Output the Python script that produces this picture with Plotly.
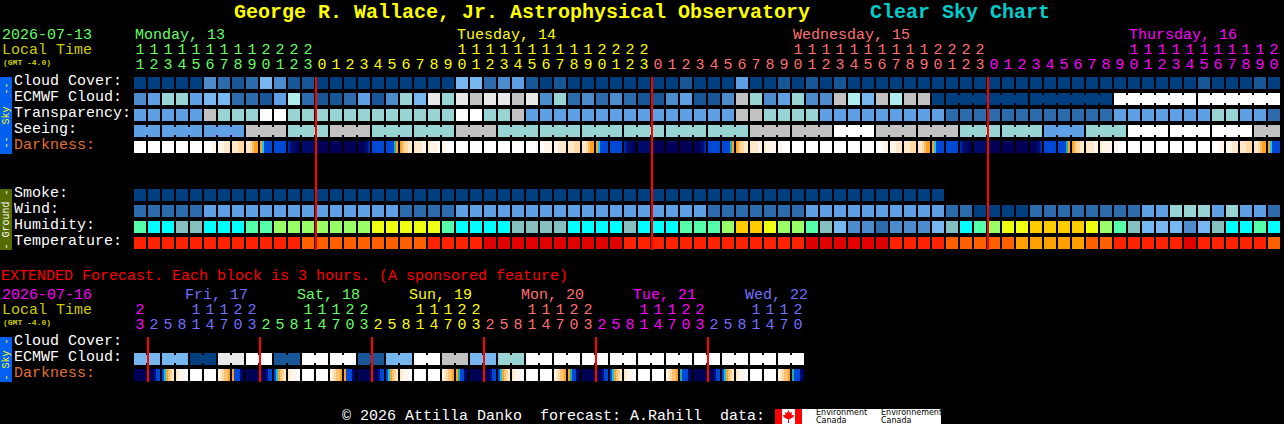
import plotly.graph_objects as go

W, H = 1284, 424
MONO = "Liberation Mono"

# block colours, lightest end is overcast / poor
cloud_colors = ["#003f7f", "#175797", "#2c6cac", "#4c8ccc", "#5f9fe3", "#77b7f0",
                "#99d4d4", "#aeeeee", "#c2c2c2", "#e9e9e9", "#ffffff"]
humidity_colors = ["#2c6cac", "#4c8ccc", "#77b7f0", "#85c0c0", "#00ffff", "#55ffaa",
                   "#99ff66", "#eeff11", "#ffcc00"]
temperature_colors = ["#e00000", "#ff2200", "#ff6000", "#ffa000"]
darkness_colors = ["#ffffff", "#fff5e8", "#ffe8cc", "#ffd9a0", "#ffc070", "#ffa020",
                   "#10c8f0", "#0048d8", "#0028a8", "#001080", "#000a68", "#000058", "#20b0a0"]

day_colors = {"mon": "#66ff66", "tue": "#ffff00", "wed": "#ff7070", "thu": "#ff00ff",
              "fri": "#7070ff", "sat": "#66ff66", "sun": "#ffff00"}

# hourly chart
hours = [11, 12, 13, 14, 15, 16, 17, 18, 19, 20, 21, 22, 23,
         0, 1, 2, 3, 4, 5, 6, 7, 8, 9, 10, 11, 12, 13, 14, 15, 16, 17, 18, 19, 20, 21, 22, 23,
         0, 1, 2, 3, 4, 5, 6, 7, 8, 9, 10, 11, 12, 13, 14, 15, 16, 17, 18, 19, 20, 21, 22, 23,
         0, 1, 2, 3, 4, 5, 6, 7, 8, 9, 10, 11, 12, 13, 14, 15, 16, 17, 18, 19, 20]
hour_days = [("mon", 13), ("tue", 24), ("wed", 24), ("thu", 21)]
day_labels = [("Monday, 13", 135, "mon"), ("Tuesday, 14", 457, "tue"),
              ("Wednesday, 15", 793, "wed"), ("Thursday, 16", 1129, "thu")]

cloud_cover = [0, 0, 0, 0, 0, 3, 2, 1, 2, 5, 3, 1, 1, 0, 0, 0, 0, 0, 0, 0, 0, 0, 0, 5, 5, 2, 3, 4, 1, 0, 1,
               0, 0, 0, 0, 0, 0, 0, 0, 1, 0, 0, 0, 4, 0, 0, 1, 0, 1, 0, 1,
               0, 0, 0, 0, 0, 0, 0, 0, 0, 0, 0, 0, 0, 0, 0, 0, 0, 0, 0, 0, 0, 0, 0, 0, 0, 1, 0, 0, 0, 1, 0]
ecmwf_cloud = [3, 4, 6, 6, 4, 5, 5, 2, 2, 1, 4, 7, 2, 1, 1, 2, 4, 1, 3, 6, 5, 9, 6, 9, 8, 9, 9, 8, 9, 3, 6,
               2, 3, 2, 3, 2, 1, 1, 3, 4, 1, 1, 3, 8, 6, 3, 4, 6, 3, 3, 8, 7, 5, 8, 7, 8, 8, 0,
               0, 0, 0, 0, 0, 0, 0, 0, 0, 0, 0, 0, 10, 10, 10, 10, 10, 10, 10, 10, 10, 10, 10, 10]
ecmwf_spans = [(58, 63), (64, 69), (70, 75), (76, 81)]
transparency = [4, 4, 4, 4, 4, 8, 6, 6, 6, 10, 10, 6, 6, 6, 6, 6, 6, 6, 6, 6, 6, 6, 6, 10, 10, 6, 6, 8,
                4, 4, 4, 4, 4, 4, 4, 4, 4, 4, 4, 4, 4, 4, 4, 8, 8, 6, 6, 6, 6, 4, 4, 4,
                4, 4, 4, 4, 4, 4, 2, 2, 2, 2, 2, 2, 2, 2, 2, 2, 2, 2, 4, 4, 4, 4, 4, 4, 4, 6, 6, 4, 4, 2]
seeing_lengths = [2, 3, 3, 3, 3, 3, 3, 3, 3, 3, 3, 3, 3, 3, 3, 3, 3, 3, 3, 3, 3, 3, 3, 3, 3, 3, 3, 2]
seeing_levels = [4, 4, 4, 8, 6, 8, 6, 6, 8, 6, 6, 6, 6, 6, 6, 8, 8, 10, 8, 8, 6, 6, 4, 6, 10, 10, 10, 8]
# one char = solid block, six chars = the block's gradient left to right
darkness = ["0", "0", "0", "0", "0", "000011", "111222", "222333", "223455", "567777", "7", "89aabb", "a",
            "b", "b", "b", "bbba98", "7", "7777c5", "543322", "222211", "211110", "110000",
            "0", "0", "0", "0", "0", "000001", "001111", "112222", "222333", "223455", "567777", "7", "89aabb", "a",
            "b", "b", "b", "bbba98", "7", "7777c5", "543322", "222211", "211111", "110000",
            "0", "0", "0", "0", "0", "0", "000111", "111222", "222333", "223455", "567777", "7", "89aabb", "a",
            "b", "b", "b", "bbba98", "7", "7777c5", "543322", "222211", "211111", "110000",
            "0", "0", "0", "0", "0", "0", "000111", "111222", "222333", "223455", "567777"]

smoke = [0] * 58
wind = [2, 2, 2, 2, 2, 4, 4, 4, 4, 4, 4, 4, 4, 4, 4, 4, 4, 4, 4, 2, 2, 2, 2,
        4, 4, 4, 4, 4, 4, 4, 4, 4, 4, 4, 4, 4, 4, 4, 4, 4, 4, 2, 2, 2, 2, 2, 2, 2,
        4, 4, 4, 4, 4, 4, 4, 4, 4, 4, 2, 2, 0, 0, 0, 0, 2, 2, 2, 2, 2, 2, 2, 2,
        4, 4, 6, 6, 6, 4, 6, 4, 4, 2]
humidity = [5, 4, 4, 3, 3, 4, 4, 4, 5, 5, 6, 6, 6, 6, 6, 6, 6, 7, 7, 7, 7, 7, 5, 4, 4, 4, 4, 3, 3, 3, 3,
            4, 4, 4, 4, 3, 4, 4, 4, 5, 5, 5, 6, 8, 8, 7, 6, 6, 5, 3, 2, 1, 1, 0, 1, 1, 1, 2, 3, 4, 5,
            6, 7, 7, 8, 8, 8, 8, 7, 6, 5, 3, 2, 2, 2, 1, 2, 3, 4, 4, 5, 4]
temperature = [1, 1, 1, 1, 1, 1, 1, 1, 1, 1, 1, 1, 2, 2, 2, 2, 2, 2, 2, 2, 2, 1, 1, 1, 1, 0,
               0, 0, 0, 0, 0, 0, 0, 0, 0, 1, 1, 1, 1, 1, 1, 1, 1, 1, 1, 1, 1, 1, 0, 0, 0, 0, 0, 0,
               1, 1, 1, 1, 2, 2, 2, 2, 2, 3, 3, 3, 3, 3, 2, 2, 1, 1, 1, 1, 1, 0, 1, 1, 1, 1, 1, 2]

# extended chart, 3 hour blocks
ext_hours = [23, 2, 5, 8, 11, 14, 17, 20, 23, 2, 5, 8, 11, 14, 17, 20, 23, 2, 5, 8, 11, 14, 17, 20, 23,
             2, 5, 8, 11, 14, 17, 20, 23, 2, 5, 8, 11, 14, 17, 20, 23, 2, 5, 8, 11, 14, 17, 20]
ext_hour_days = [("thu", 1), ("fri", 8), ("sat", 8), ("sun", 8), ("wed", 8), ("thu", 8), ("fri", 7)]
ext_day_labels = [("Fri, 17", 185, "fri"), ("Sat, 18", 297, "sat"), ("Sun, 19", 409, "sun"),
                  ("Mon, 20", 521, "wed"), ("Tue, 21", 633, "thu"), ("Wed, 22", 745, "fri")]
ext_ecmwf = [5, 5, 0, 9, 10, 1, 10, 10, 1, 5, 10, 8, 5, 6, 10, 10, 10, 10, 10, 10, 10, 10, 10, 10]
ext_darkness = ["b", "bbb977", "765432", "211100", "0", "0", "123445", "5777ab",
                "b", "bbb977", "765432", "211100", "0", "0", "123445", "5777ab",
                "b", "bbb977", "765432", "211100", "0", "0", "123445", "5c77ab",
                "b", "bbb977", "765432", "211100", "0", "0", "123445", "5c77ab",
                "b", "bbb977", "765432", "211100", "0", "0", "123445", "c777ab",
                "b", "bbb977", "765432", "211100", "0", "0", "123445", "c777ab"]

sky_rows = [("Cloud Cover:", "#ffffff"), ("ECMWF Cloud:", "#ffffff"), ("Transparency:", "#ffffff"),
            ("Seeing:", "#ffffff"), ("Darkness:", "#e07030")]
ground_rows = ["Smoke:", "Wind:", "Humidity:", "Temperature:"]
ext_rows = [("Cloud Cover:", "#ffffff"), ("ECMWF Cloud:", "#ffffff"), ("Darkness:", "#e07030")]


def blocks(values, row, colors, xa, ya):
    n = len(colors)
    scale = []
    for i, c in enumerate(colors):
        scale += [[i / n, c], [(i + 1) / n, c]]
    return go.Heatmap(z=[values], x=list(range(len(values))), y=[row], xaxis=xa, yaxis=ya,
                      zmin=-0.5, zmax=n - 0.5, colorscale=scale, showscale=False,
                      xgap=2, ygap=4, hoverinfo="skip")


def gradient_blocks(values, row, xa, ya):
    # each block is 6 strips plus one empty strip for the gap
    n = len(darkness_colors)
    scale = []
    for i, c in enumerate(darkness_colors):
        scale += [[i / n, c], [(i + 1) / n, c]]
    xs, zs = [], []
    for col, v in enumerate(values):
        strip = v * 6 if len(v) == 1 else v
        for k in range(7):
            xs.append(col - 0.5 + 1 / 14 + (k + 0.5) / 7)
            zs.append(int(strip[k], 16) if k < 6 else None)
    return go.Heatmap(z=[zs], x=xs, y=[row], xaxis=xa, yaxis=ya, zmin=-0.5, zmax=n - 0.5,
                      colorscale=scale, showscale=False, ygap=4, hoverinfo="skip", hoverongaps=False)


def joiner(first, last, row, color, xa, ya):
    return go.Scatter(x=[first, last], y=[row, row], xaxis=xa, yaxis=ya, mode="lines",
                      line=dict(color=color, width=8), hoverinfo="skip", showlegend=False)


def digit_row(labels, y, spans):
    colors = []
    for name, count in spans:
        colors += [day_colors[name]] * count
    xa = "x" if len(labels) == len(hours) else "x2"
    return [go.Scatter(x=[i for i, t in enumerate(labels) if t], y=[y] * sum(1 for t in labels if t),
                       xaxis=xa, yaxis="y4", mode="text", text=[t for t in labels if t],
                       textfont=dict(family=MONO, size=15, color=[c for c, t in zip(colors, labels) if t]),
                       hoverinfo="skip", showlegend=False)]


fig = go.Figure()

# sky rows
fig.add_trace(blocks(cloud_cover, 0, cloud_colors, "x", "y"))
fig.add_trace(blocks(ecmwf_cloud, 1, cloud_colors, "x", "y"))
fig.add_trace(blocks(transparency, 2, cloud_colors, "x", "y"))
seeing = []
for length, level in zip(seeing_lengths, seeing_levels):
    seeing += [level] * length
fig.add_trace(blocks(seeing, 3, cloud_colors, "x", "y"))
fig.add_trace(gradient_blocks(darkness, 4, "x", "y"))
for first, last in ecmwf_spans:
    fig.add_trace(joiner(first, last, 1, cloud_colors[ecmwf_cloud[first]], "x", "y"))
col = 0
for length, level in zip(seeing_lengths, seeing_levels):
    fig.add_trace(joiner(col, col + length - 1, 3, cloud_colors[level], "x", "y"))
    col += length

# ground rows
fig.add_trace(blocks(smoke, 0, cloud_colors, "x", "y2"))
fig.add_trace(blocks(wind, 1, cloud_colors, "x", "y2"))
fig.add_trace(blocks(humidity, 2, humidity_colors, "x", "y2"))
fig.add_trace(blocks(temperature, 3, temperature_colors, "x", "y2"))

# extended rows
ext_cols = []
for level in ext_ecmwf:
    ext_cols += [level, level]
fig.add_trace(blocks(ext_cols, 1, cloud_colors, "x2", "y3"))
fig.add_trace(gradient_blocks(ext_darkness, 2, "x2", "y3"))
for i, level in enumerate(ext_ecmwf):
    fig.add_trace(joiner(2 * i, 2 * i + 1, 1, cloud_colors[level], "x2", "y3"))

# hour digits
fig.add_traces(digit_row([str(h // 10) if h >= 10 else "" for h in hours], 50, hour_days))
fig.add_traces(digit_row([str(h % 10) for h in hours], 65, hour_days))
fig.add_traces(digit_row([str(h // 10) if h >= 10 else "" for h in ext_hours], 310, ext_hour_days))
fig.add_traces(digit_row([str(h % 10) for h in ext_hours], 325, ext_hour_days))


def label(text, x, y, color="#ffffff", size=15, bold=False, anchor="left", angle=0, family=MONO):
    if bold:
        text = "<b>" + text + "</b>"
    if anchor == "left":
        x = max(x - 1, 0)  # annotations off the axis range get dropped
    fig.add_annotation(text=text.replace(" ", "\u00a0"), x=x, y=y, xref="x3", yref="y4", showarrow=False,
                       xanchor=anchor, yanchor="middle", textangle=angle, borderpad=0,
                       font=dict(family=family, size=size, color=color))


label("George R. Wallace, Jr. Astrophysical Observatory", 234, 12, "#ffff00", 20, True)
label("Clear Sky Chart", 870, 12, "#00cccc", 20, True)

label("2026-07-13", 2, 35, day_colors["mon"])
label("Local Time", 2, 50, "#cccc00")
label("(GMT -4.0)", 3, 62, "#cccc00", 8, True)
for text, x, day in day_labels:
    label(text, x, 35, day_colors[day])

for i, (text, color) in enumerate(sky_rows):
    label(text, 14, 81 + 16 * i, color)
for i, text in enumerate(ground_rows):
    label(text, 14, 193 + 16 * i)

label("EXTENDED Forecast. Each block is 3 hours. (A sponsored feature)", 0, 276, "#ff0000")
label("2026-07-16", 2, 295, day_colors["thu"])
label("Local Time", 2, 310, "#cccc00")
label("(GMT -4.0)", 3, 322, "#cccc00", 8, True)
for text, x, day in ext_day_labels:
    label(text, x, 295, day_colors[day])
for i, (text, color) in enumerate(ext_rows):
    label(text, 14, 341 + 16 * i, color)

label("© 2026 Attilla Danko  forecast: A.Rahill  data:", 342, 416)
label("Environment", 816, 412.5, "#000000", 8, family="DejaVu Sans")
label("Canada", 816, 420.5, "#000000", 8, family="DejaVu Sans")
label("Environnement", 881, 412.5, "#000000", 8, family="DejaVu Sans")
label("Canada", 881, 420.5, "#000000", 8, family="DejaVu Sans")


def box(x0, y0, x1, y1, color):
    fig.add_shape(type="rect", x0=x0, y0=y0, x1=x1, y1=y1, xref="x3", yref="y4",
                  fillcolor=color, line_width=0, layer="below")


# side tabs
box(0, 77, 12, 154, "#0060f0")
box(0, 189, 12, 250, "#556b00")
box(0, 337, 12, 382, "#0060f0")
label("--  Sky  --", 6, 115.5, "#ffff00", 10, anchor="center", angle=-90)
label("- Ground -", 6, 219.5, "#ffffff", 10, anchor="center", angle=-90)
label("- Sky -", 6, 359.5, "#ffff00", 10, anchor="center", angle=-90)

# flag and data credit box
box(775, 409, 941, 424, "#ffffff")
box(775, 409, 782, 424, "#ff0000")
box(795, 409, 802, 424, "#ff0000")
fig.add_shape(type="path", xref="x3", yref="y4", fillcolor="#ff0000", line_width=0, layer="below",
              path="M788.5 410 L790 413 L792 412 L791.5 415 L794 415 L793.5 417 L790 419 L789 419 L789 423"
                   " L788 423 L788 419 L787 419 L783.5 417 L783 415 L785.5 415 L785 412 L787 413 Z")

# midnight lines
col = 0
for name, count in hour_days[:-1]:
    col += count
    fig.add_shape(type="line", x0=col - 0.5 + 1 / 14, x1=col - 0.5 + 1 / 14, y0=77, y1=250,
                  xref="x", yref="y4", line=dict(color="#ff0000", width=2))
col = 0
for name, count in ext_hour_days[:-1]:
    col += count
    fig.add_shape(type="line", x0=col - 0.5 + 1 / 14, x1=col - 0.5 + 1 / 14, y0=337, y1=382,
                  xref="x2", yref="y4", line=dict(color="#ff0000", width=2))


def hidden(**kw):
    return dict(visible=False, fixedrange=True, **kw)


fig.update_layout(
    width=W, height=H, margin=dict(l=0, r=0, t=0, b=0), showlegend=False,
    paper_bgcolor="#000000", plot_bgcolor="rgba(0,0,0,0)",
    xaxis=hidden(domain=[133 / W, (133 + 14 * len(hours)) / W], range=[-0.5, len(hours) - 0.5], anchor="y"),
    xaxis2=hidden(domain=[133 / W, (133 + 14 * len(ext_hours)) / W], range=[-0.5, len(ext_hours) - 0.5], anchor="y3"),
    xaxis3=hidden(domain=[0, 1], range=[0, W], anchor="y4"),
    yaxis=hidden(domain=[1 - 155 / H, 1 - 75 / H], range=[4.5, -0.5], anchor="x"),
    yaxis2=hidden(domain=[1 - 251 / H, 1 - 187 / H], range=[3.5, -0.5], anchor="x"),
    yaxis3=hidden(domain=[1 - 383 / H, 1 - 335 / H], range=[2.5, -0.5], anchor="x2"),
    yaxis4=hidden(domain=[0, 1], range=[H, 0], anchor="x3"),
)

fig.write_html("out.html", config={"displayModeBar": False},
               post_script="document.body.style.margin='0';document.body.style.background='#000';")
